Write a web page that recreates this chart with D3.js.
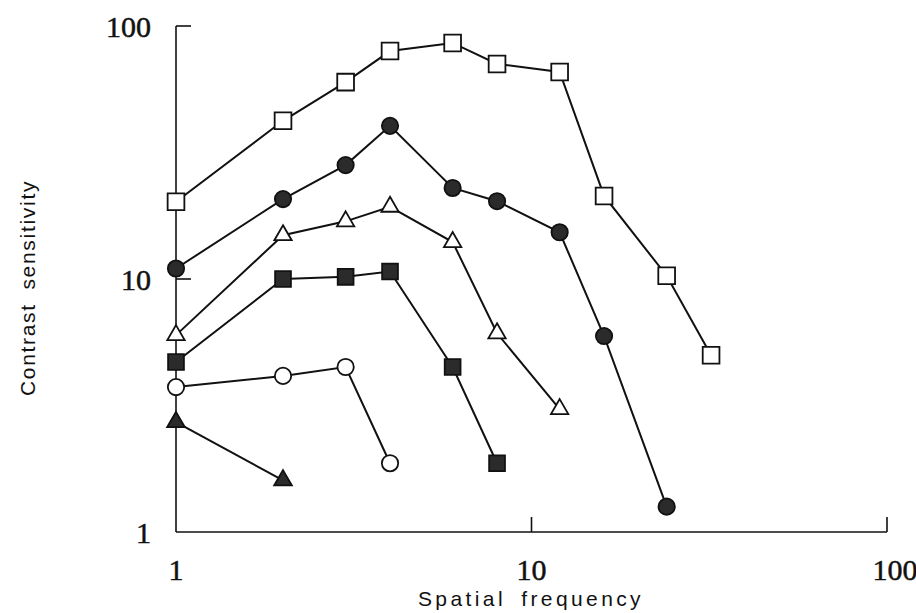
<!DOCTYPE html>
<html>
<head>
<meta charset="utf-8">
<script src="https://cdn.jsdelivr.net/npm/d3@7"></script>
<style>
  html, body { margin: 0; padding: 0; background: #fff; }
  svg { display: block; }
</style>
</head>
<body>
<svg id="chart" width="916" height="613"></svg>
<script>
// Contrast sensitivity vs spatial frequency (log-log)
const xTicks = [1, 10, 100];
const yTicks = [1, 10, 100];
const xTickLabels = ["1", "10", "100"];
const yTickLabels = ["1", "10", "100"];

const freqOpenSquare   = [1, 2, 3, 4, 6, 8, 12, 16, 24, 32];
const sensOpenSquare   = [20.2, 42.2, 60, 79.6, 85.7, 70.8, 65.8, 21.3, 10.3, 5.0];

const freqFilledCircle = [1, 2, 3, 4, 6, 8, 12, 16, 24];
const sensFilledCircle = [11.0, 20.7, 28.2, 40.3, 22.9, 20.3, 15.3, 5.95, 1.26];

const freqOpenTriangle = [1, 2, 3, 4, 6, 8, 12];
const sensOpenTriangle = [6.0, 14.9, 16.9, 19.3, 14.0, 6.1, 3.06];

const freqFilledSquare = [1, 2, 3, 4, 6, 8];
const sensFilledSquare = [4.7, 10.0, 10.2, 10.7, 4.49, 1.87];

const freqOpenCircle   = [1, 2, 3, 4];
const sensOpenCircle   = [3.74, 4.14, 4.49, 1.87];

const freqFilledTriangle = [1, 2];
const sensFilledTriangle = [2.72, 1.6];

const ink = "#111";
const dark = "#2b2b2b";

const series = [
  { xs: freqOpenSquare,     ys: sensOpenSquare,     shape: d3.symbolSquare,   size: 280, fill: "#fff" },
  { xs: freqFilledCircle,   ys: sensFilledCircle,   shape: d3.symbolCircle,   size: 210, fill: dark },
  { xs: freqOpenTriangle,   ys: sensOpenTriangle,   shape: d3.symbolTriangle, size: 130, fill: "#fff" },
  { xs: freqFilledSquare,   ys: sensFilledSquare,   shape: d3.symbolSquare,   size: 250, fill: dark },
  { xs: freqOpenCircle,     ys: sensOpenCircle,     shape: d3.symbolCircle,   size: 210, fill: "#fff" },
  { xs: freqFilledTriangle, ys: sensFilledTriangle, shape: d3.symbolTriangle, size: 135, fill: dark }
];

const svg = d3.select("#chart");

const x = d3.scaleLog().domain([1, 100]).range([176, 887]);
const y = d3.scaleLog().domain([1, 100]).range([532, 26]);

const tickLen = 15;

// Axis lines
const axes = svg.append("g").attr("stroke", ink).attr("stroke-width", 1.6).attr("fill", "none");
axes.append("line")
  .attr("x1", x(1)).attr("x2", x(1))
  .attr("y1", y(100)).attr("y2", y(1));
axes.append("line")
  .attr("x1", x(1)).attr("x2", x(100))
  .attr("y1", y(1)).attr("y2", y(1));

// Inward ticks on the y axis (skip the origin)
axes.selectAll(".ytick").data(yTicks.slice(1)).join("line")
  .attr("x1", x(1)).attr("x2", x(1) + tickLen)
  .attr("y1", d => y(d)).attr("y2", d => y(d));
// Inward ticks on the x axis (skip the origin)
axes.selectAll(".xtick").data(xTicks.slice(1)).join("line")
  .attr("x1", d => x(d)).attr("x2", d => x(d))
  .attr("y1", y(1)).attr("y2", y(1) - tickLen);

// Tick labels in a serif face
const serif = "'Liberation Serif', 'DejaVu Serif', serif";
svg.append("g").selectAll("text").data(yTicks).join("text")
  .attr("x", 151)
  .attr("y", d => y(d) + 11)
  .attr("text-anchor", "end")
  .attr("font-family", serif)
  .attr("font-size", 30)
  .attr("fill", ink)
  .attr("stroke", ink)
  .attr("stroke-width", 0.5)
  .text((d, i) => yTickLabels[i]);

svg.append("g").selectAll("text").data(xTicks).join("text")
  .attr("x", (d, i) => x(d) + (i === 2 ? 8 : 0))
  .attr("y", 580)
  .attr("text-anchor", "middle")
  .attr("font-family", serif)
  .attr("font-size", 30)
  .attr("fill", ink)
  .attr("stroke", ink)
  .attr("stroke-width", 0.5)
  .text((d, i) => xTickLabels[i]);

// Axis titles
const sans = "'Liberation Sans', Arial, Helvetica, sans-serif";
svg.append("text")
  .attr("x", 531).attr("y", 606)
  .attr("text-anchor", "middle")
  .attr("font-family", sans)
  .attr("font-size", 21)
  .attr("letter-spacing", 3.4)
  .attr("word-spacing", 6)
  .attr("fill", ink)
  .text("Spatial frequency");

svg.append("text")
  .attr("transform", "translate(35,288) rotate(-90)")
  .attr("text-anchor", "middle")
  .attr("font-family", sans)
  .attr("font-size", 21)
  .attr("letter-spacing", 1.7)
  .attr("word-spacing", 6)
  .attr("fill", ink)
  .text("Contrast sensitivity");

// Connecting lines first, then markers on top
const line = d3.line().x(d => x(d[0])).y(d => y(d[1]));
const lineLayer = svg.append("g");
const markLayer = svg.append("g");

series.forEach(s => {
  const pts = s.xs.map((v, i) => [v, s.ys[i]]);
  lineLayer.append("path")
    .attr("d", line(pts))
    .attr("fill", "none")
    .attr("stroke", ink)
    .attr("stroke-width", 2);

  const sym = d3.symbol().type(s.shape).size(s.size);
  markLayer.append("g").selectAll("path").data(pts).join("path")
    .attr("transform", d => `translate(${x(d[0])},${y(d[1])})`)
    .attr("d", sym)
    .attr("fill", s.fill)
    .attr("stroke", ink)
    .attr("stroke-width", 1.8);
});
</script>
</body>
</html>
